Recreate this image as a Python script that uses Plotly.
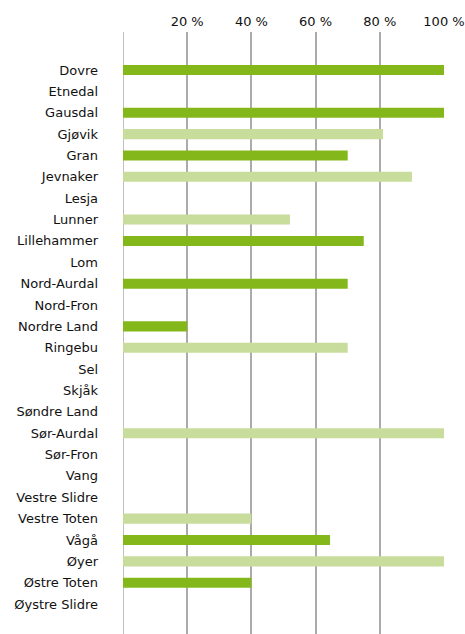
import plotly.graph_objects as go

categories = ["Dovre", "Etnedal", "Gausdal", "Gjøvik", "Gran", "Jevnaker", "Lesja",
              "Lunner", "Lillehammer", "Lom", "Nord-Aurdal", "Nord-Fron", "Nordre Land",
              "Ringebu", "Sel", "Skjåk", "Søndre Land", "Sør-Aurdal", "Sør-Fron", "Vang",
              "Vestre Slidre", "Vestre Toten", "Vågå", "Øyer", "Østre Toten", "Øystre Slidre"]
values = [100, None, 100, 81, 70, 90, None,
          52, 75, None, 70, None, 20,
          70, None, None, None, 100, None, None,
          None, 40, 64.5, 100, 40, None]
groups = ["dark", None, "dark", "light", "dark", "light", None,
          "light", "dark", None, "dark", None, "dark",
          "light", None, None, None, "light", None, None,
          None, "light", "dark", "light", "dark", None]
tick_vals = [20, 40, 60, 80, 100]
tick_text = ["20 %", "40 %", "60 %", "80 %", "100 %"]

palette = {"dark": "#84b81a", "light": "#c8dc9b", None: "#ffffff"}
colors = [palette[g] for g in groups]

fig = go.Figure(go.Bar(
    y=categories, x=values, orientation="h",
    marker=dict(color=colors, line=dict(width=0)),
    width=0.47,
))

n = len(categories)
fig.update_layout(
    width=465, height=634,
    margin=dict(l=123, r=21, t=32, b=0, autoexpand=False),
    paper_bgcolor="white", plot_bgcolor="white",
    font=dict(family="DejaVu Sans", size=13, color="#111111"),
    showlegend=False,
    xaxis=dict(side="top", range=[0, 100], tickvals=tick_vals, ticktext=tick_text,
               showgrid=True, gridcolor="#ababab", gridwidth=1.5, automargin=False,
               zeroline=False, showline=False, ticks="", ticklabelstandoff=2,
               fixedrange=True),
    yaxis=dict(type="category", categoryorder="array", categoryarray=categories,
               range=[n - 1 + 1.40, -1.78], showgrid=False, zeroline=False,
               automargin=False, showline=False, ticks="", ticklabelstandoff=24,
               fixedrange=True),
    shapes=[dict(type="line", xref="x", yref="paper", x0=0, x1=0, y0=0, y1=1,
                 line=dict(color="#ababab", width=1.5), layer="below")],
)

fig.write_html(
    "out.html",
    config={"displayModeBar": False},
    post_script="document.body.style.margin='0';document.body.style.overflow='hidden';",
)
